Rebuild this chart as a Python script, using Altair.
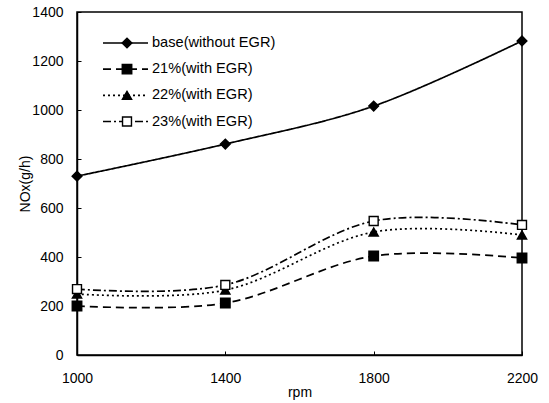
import altair as alt
import pandas as pd

rpm = [1000, 1400, 1800, 2200]
series_names = ["base(without EGR)", "21%(with EGR)", "22%(with EGR)", "23%(with EGR)"]
base = [730, 861, 1016, 1282]
egr21 = [200, 212, 404, 396]
egr22 = [249, 265, 502, 490]
egr23 = [269, 286, 547, 531]
x_ticks = [1000, 1400, 1800, 2200]
y_ticks = [0, 200, 400, 600, 800, 1000, 1200, 1400]

rows = []
for name, vals in zip(series_names, [base, egr21, egr22, egr23]):
    for r, v in zip(rpm, vals):
        rows.append({"rpm": r, "NOx": v, "series": name})
df = pd.DataFrame(rows)
legend_df = pd.DataFrame({"series": series_names})

FONT = "Liberation Sans"
W, H = 445, 343

marker_shapes = ["diamond", "square", "triangle-up", "square"]
marker_sizes = [95, 80, 80, 60]
fills = ["black", "black", "black", "white"]
dashes = [[1, 0], [8, 5], [2, 3], [8, 3, 2, 3]]

x_enc = alt.X("rpm:Q", scale=alt.Scale(domain=[1000, 2200], nice=False, zero=False),
              axis=alt.Axis(values=x_ticks, title="rpm", format="d", ticks=False,
                            labelPadding=16, titlePadding=0, grid=False, labelFlush=False,
                            domainColor="black", domainWidth=1.5))
y_enc = alt.Y("NOx:Q", scale=alt.Scale(domain=[0, 1400], nice=False),
              axis=alt.Axis(values=y_ticks, title="NOx(g/h)", format="d", ticks=False,
                            labelPadding=14, titlePadding=-1, grid=False, labelFlush=False,
                            domainColor="black", domainWidth=1.5))

dash_enc = alt.StrokeDash("series:N", scale=alt.Scale(domain=series_names, range=dashes),
                          legend=None)
shape_enc = alt.Shape("series:N", scale=alt.Scale(domain=series_names, range=marker_shapes),
                      legend=None)
fill_enc = alt.Fill("series:N", scale=alt.Scale(domain=series_names, range=fills), legend=None)
size_enc = alt.Size("series:N", scale=alt.Scale(domain=series_names, range=marker_sizes),
                    legend=None)

lines = alt.Chart(df).mark_line(interpolate="cardinal", tension=0, color="black",
                                strokeWidth=1.7).encode(x=x_enc, y=y_enc, strokeDash=dash_enc)

points = alt.Chart(df).mark_point(stroke="black", strokeWidth=1.4, opacity=1, filled=False).encode(
    x=x_enc, y=y_enc, shape=shape_enc, fill=fill_enc, size=size_enc)

data_layer = alt.layer(lines, points)

# legend block inside the plot (top-left)
leg_y = alt.Y("series:N", scale=alt.Scale(type="point", domain=series_names,
                                          range=[31, 109.5], padding=0), axis=None)
leg_lines = alt.Chart(legend_df).mark_rule(color="black", strokeWidth=1.6).encode(
    x=alt.value(26), x2=alt.value(71), y=leg_y, strokeDash=dash_enc)
leg_points = alt.Chart(legend_df).mark_point(stroke="black", strokeWidth=1.4, opacity=1,
                                             filled=False).encode(
    x=alt.value(50), y=leg_y, shape=shape_enc, fill=fill_enc, size=size_enc)
leg_text = alt.Chart(legend_df).mark_text(align="left", baseline="middle", font=FONT,
                                          fontSize=14.6, color="black").encode(
    x=alt.value(75), y=leg_y, text="series:N")
legend_layer = alt.layer(leg_lines, leg_points, leg_text)

# inward tick marks on the left and bottom axes
ticks_layer = alt.Chart(df).mark_point(opacity=0).encode(
    x=alt.X("rpm:Q", scale=alt.Scale(domain=[1000, 2200], nice=False, zero=False),
            axis=alt.Axis(orient="top", offset=-H, values=x_ticks, labels=False, title=None,
                          domain=False, ticks=True, tickSize=4, tickColor="black",
                          tickWidth=1, grid=False)),
    y=alt.Y("NOx:Q", scale=alt.Scale(domain=[0, 1400], nice=False),
            axis=alt.Axis(orient="right", offset=-W, values=y_ticks, labels=False, title=None,
                          domain=False, ticks=True, tickSize=4, tickColor="black",
                          tickWidth=1, grid=False)),
)

chart = alt.layer(data_layer, legend_layer, ticks_layer).resolve_scale(
    x="independent", y="independent").properties(
    width=W, height=H,
    autosize=alt.AutoSizeParams(type="none"),
    padding={"left": 77, "top": 12, "right": 27, "bottom": 48},
    background="white",
).configure_view(stroke="black", strokeWidth=1.5).configure_axis(
    labelFont=FONT, labelFontSize=14, labelColor="black",
    titleFont=FONT, titleFontSize=14, titleFontWeight="normal", titleColor="black",
)

chart.save("out.html", embed_options={"renderer": "svg", "actions": False})
